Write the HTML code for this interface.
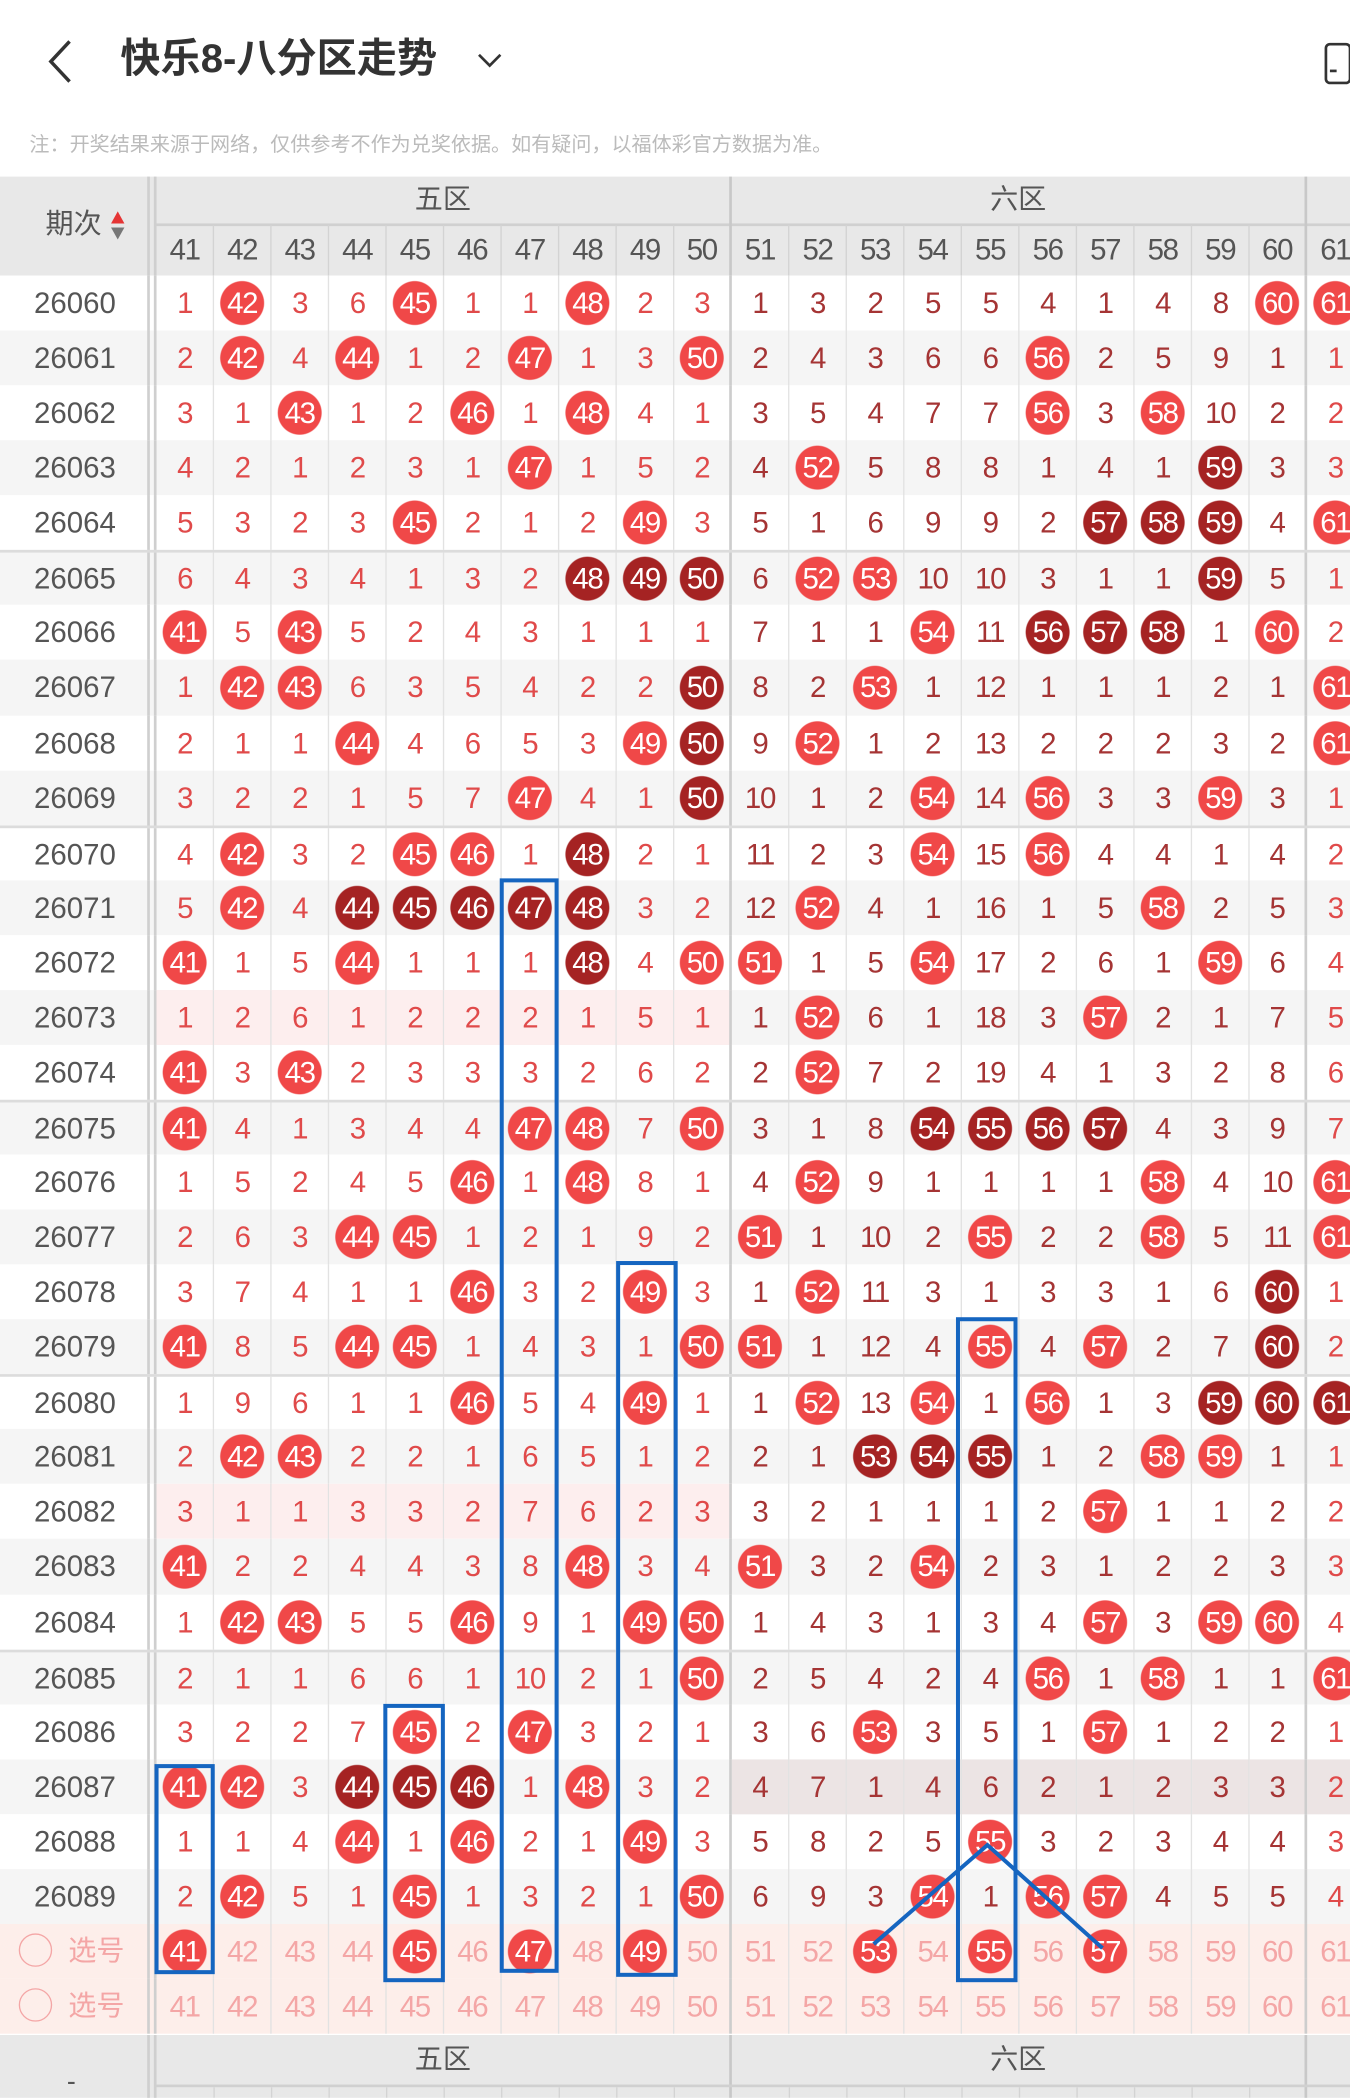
<!DOCTYPE html>
<html><head><meta charset="utf-8">
<style>
*{margin:0;padding:0}
html,body{width:1350px;height:2098px;overflow:hidden;background:#fff}
#w{position:absolute;left:0;top:0;width:1009px;height:1568px;transform:scale(1.33796);transform-origin:0 0;font-family:"Liberation Sans","Noto Sans CJK SC",sans-serif;overflow:hidden}
.a{position:absolute}
#rows{position:absolute;left:0;top:206px;width:1040px}
.r{display:flex;height:41.07px;line-height:41px;box-sizing:border-box;background:#fff}
.r:nth-child(even){background:#f5f5f5}
.r.t{border-top:2px solid #dcdcdc;line-height:39px}
.r i{flex:none;width:110px;font-style:normal;text-align:center;color:#555;font-size:22px;padding-left:2px;box-sizing:border-box}
.r u{flex:none;width:7px;border-left:2px solid #cfcfcf;border-right:2px solid #cfcfcf;box-sizing:border-box;text-decoration:none}
.r span{flex:none;width:43px;box-sizing:border-box;border-right:1px solid #e2e2e2;text-align:center;font-size:22px;color:#e04a4a;letter-spacing:-1px}
.r span:nth-child(n+13):nth-child(-n+22){color:#a53434}
.r span:nth-child(12),.r span:nth-child(22){border-right:2px solid #cdcdcd}
.r span.b{background-image:radial-gradient(circle,#f04848 16px,rgba(240,72,72,0) 16.8px);color:#fff!important}
.r span.d{background-image:radial-gradient(circle,#a52323 16px,rgba(165,35,35,0) 16.8px);color:#fff!important}
.h5 span:nth-child(n+3):nth-child(-n+12){background-color:#fdeeee}
.h6 span:nth-child(n+13){background-color:#ece4e4}
.r.s{background:#fdeeea}
.r.s span{color:#f4a6a6!important}
.r.s span.b{color:#fff!important}
.r.s i{color:#f4a6a6;text-align:left;padding-left:14px;font-size:21px}
.r.s i b{display:inline-block;width:25px;height:25px;border:1.5px solid #f4a6a6;border-radius:50%;vertical-align:middle;margin-right:12px;margin-top:-4px;box-sizing:border-box}
.hd{background:#e8e8e8}
.hn{display:flex;position:absolute;left:117px;top:168px;height:38px;line-height:38px}
.hn span{flex:none;width:43px;box-sizing:border-box;border-right:1px solid #d3d3d3;text-align:center;font-size:22px;color:#555;letter-spacing:-1px}
.hn span:nth-child(10),.hn span:nth-child(20){border-right:2px solid #c8c8c8}
.zl{font-size:21px;color:#555;text-align:center}
</style></head><body><div id="w">
<svg class="a" style="left:30px;top:28px" width="30" height="36"><polyline points="22,3 8,18 22,33" fill="none" stroke="#333" stroke-width="2.6"/></svg>
<div class="a" style="left:90px;top:26px;font-size:30px;font-weight:bold;color:#333;line-height:38px">快乐8-八分区走势</div>
<svg class="a" style="left:355px;top:37px" width="22" height="16"><polyline points="3,4 11,12 19,4" fill="none" stroke="#333" stroke-width="2"/></svg>
<div class="a" style="left:990px;top:32px;width:16px;height:27px;border:2px solid #333;border-radius:4px"></div>
<div class="a" style="left:994px;top:52px;width:5px;height:2px;background:#333"></div>
<div class="a" style="left:22px;top:99px;font-size:15px;color:#bbb;line-height:19px">注：开奖结果来源于网络，仅供参考不作为兑奖依据。如有疑问，以福体彩官方数据为准。</div>
<div class="a hd" style="left:0;top:132px;width:1009px;height:74px"></div>
<div class="a" style="left:110px;top:132px;width:3px;height:74px;border-left:2px solid #cfcfcf;border-right:2px solid #cfcfcf"></div>
<div class="a" style="left:117px;top:167px;width:900px;height:2px;background:#d0d0d0"></div>
<div class="a" style="left:545px;top:132px;width:2px;height:36px;background:#c8c8c8"></div>
<div class="a" style="left:975px;top:132px;width:2px;height:36px;background:#c8c8c8"></div>
<div class="a zl" style="left:117px;top:132px;width:428px;line-height:36px">五区</div>
<div class="a zl" style="left:547px;top:132px;width:428px;line-height:36px">六区</div>
<div class="a" style="left:34px;top:154px;font-size:21px;color:#555;line-height:28px">期次</div>
<svg class="a" style="left:81px;top:157px" width="14" height="24"><polygon points="7,1 12,10 2,10" fill="#e53535"/><polygon points="2,13 12,13 7,22" fill="#777"/></svg>
<div class="hn"><span>41</span><span>42</span><span>43</span><span>44</span><span>45</span><span>46</span><span>47</span><span>48</span><span>49</span><span>50</span><span>51</span><span>52</span><span>53</span><span>54</span><span>55</span><span>56</span><span>57</span><span>58</span><span>59</span><span>60</span><span>61</span></div>
<div id="rows">
<div class="r"><i>26060</i><u></u><span>1</span><span class=b>42</span><span>3</span><span>6</span><span class=b>45</span><span>1</span><span>1</span><span class=b>48</span><span>2</span><span>3</span><span>1</span><span>3</span><span>2</span><span>5</span><span>5</span><span>4</span><span>1</span><span>4</span><span>8</span><span class=b>60</span><span class=b>61</span></div>
<div class="r"><i>26061</i><u></u><span>2</span><span class=b>42</span><span>4</span><span class=b>44</span><span>1</span><span>2</span><span class=b>47</span><span>1</span><span>3</span><span class=b>50</span><span>2</span><span>4</span><span>3</span><span>6</span><span>6</span><span class=b>56</span><span>2</span><span>5</span><span>9</span><span>1</span><span>1</span></div>
<div class="r"><i>26062</i><u></u><span>3</span><span>1</span><span class=b>43</span><span>1</span><span>2</span><span class=b>46</span><span>1</span><span class=b>48</span><span>4</span><span>1</span><span>3</span><span>5</span><span>4</span><span>7</span><span>7</span><span class=b>56</span><span>3</span><span class=b>58</span><span>10</span><span>2</span><span>2</span></div>
<div class="r"><i>26063</i><u></u><span>4</span><span>2</span><span>1</span><span>2</span><span>3</span><span>1</span><span class=b>47</span><span>1</span><span>5</span><span>2</span><span>4</span><span class=b>52</span><span>5</span><span>8</span><span>8</span><span>1</span><span>4</span><span>1</span><span class=d>59</span><span>3</span><span>3</span></div>
<div class="r"><i>26064</i><u></u><span>5</span><span>3</span><span>2</span><span>3</span><span class=b>45</span><span>2</span><span>1</span><span>2</span><span class=b>49</span><span>3</span><span>5</span><span>1</span><span>6</span><span>9</span><span>9</span><span>2</span><span class=d>57</span><span class=d>58</span><span class=d>59</span><span>4</span><span class=b>61</span></div>
<div class="r t"><i>26065</i><u></u><span>6</span><span>4</span><span>3</span><span>4</span><span>1</span><span>3</span><span>2</span><span class=d>48</span><span class=d>49</span><span class=d>50</span><span>6</span><span class=b>52</span><span class=b>53</span><span>10</span><span>10</span><span>3</span><span>1</span><span>1</span><span class=d>59</span><span>5</span><span>1</span></div>
<div class="r"><i>26066</i><u></u><span class=b>41</span><span>5</span><span class=b>43</span><span>5</span><span>2</span><span>4</span><span>3</span><span>1</span><span>1</span><span>1</span><span>7</span><span>1</span><span>1</span><span class=b>54</span><span>11</span><span class=d>56</span><span class=d>57</span><span class=d>58</span><span>1</span><span class=b>60</span><span>2</span></div>
<div class="r"><i>26067</i><u></u><span>1</span><span class=b>42</span><span class=b>43</span><span>6</span><span>3</span><span>5</span><span>4</span><span>2</span><span>2</span><span class=d>50</span><span>8</span><span>2</span><span class=b>53</span><span>1</span><span>12</span><span>1</span><span>1</span><span>1</span><span>2</span><span>1</span><span class=b>61</span></div>
<div class="r"><i>26068</i><u></u><span>2</span><span>1</span><span>1</span><span class=b>44</span><span>4</span><span>6</span><span>5</span><span>3</span><span class=b>49</span><span class=d>50</span><span>9</span><span class=b>52</span><span>1</span><span>2</span><span>13</span><span>2</span><span>2</span><span>2</span><span>3</span><span>2</span><span class=b>61</span></div>
<div class="r"><i>26069</i><u></u><span>3</span><span>2</span><span>2</span><span>1</span><span>5</span><span>7</span><span class=b>47</span><span>4</span><span>1</span><span class=d>50</span><span>10</span><span>1</span><span>2</span><span class=b>54</span><span>14</span><span class=b>56</span><span>3</span><span>3</span><span class=b>59</span><span>3</span><span>1</span></div>
<div class="r t"><i>26070</i><u></u><span>4</span><span class=b>42</span><span>3</span><span>2</span><span class=b>45</span><span class=b>46</span><span>1</span><span class=d>48</span><span>2</span><span>1</span><span>11</span><span>2</span><span>3</span><span class=b>54</span><span>15</span><span class=b>56</span><span>4</span><span>4</span><span>1</span><span>4</span><span>2</span></div>
<div class="r"><i>26071</i><u></u><span>5</span><span class=b>42</span><span>4</span><span class=d>44</span><span class=d>45</span><span class=d>46</span><span class=d>47</span><span class=d>48</span><span>3</span><span>2</span><span>12</span><span class=b>52</span><span>4</span><span>1</span><span>16</span><span>1</span><span>5</span><span class=b>58</span><span>2</span><span>5</span><span>3</span></div>
<div class="r"><i>26072</i><u></u><span class=b>41</span><span>1</span><span>5</span><span class=b>44</span><span>1</span><span>1</span><span>1</span><span class=d>48</span><span>4</span><span class=b>50</span><span class=b>51</span><span>1</span><span>5</span><span class=b>54</span><span>17</span><span>2</span><span>6</span><span>1</span><span class=b>59</span><span>6</span><span>4</span></div>
<div class="r h5"><i>26073</i><u></u><span>1</span><span>2</span><span>6</span><span>1</span><span>2</span><span>2</span><span>2</span><span>1</span><span>5</span><span>1</span><span>1</span><span class=b>52</span><span>6</span><span>1</span><span>18</span><span>3</span><span class=b>57</span><span>2</span><span>1</span><span>7</span><span>5</span></div>
<div class="r"><i>26074</i><u></u><span class=b>41</span><span>3</span><span class=b>43</span><span>2</span><span>3</span><span>3</span><span>3</span><span>2</span><span>6</span><span>2</span><span>2</span><span class=b>52</span><span>7</span><span>2</span><span>19</span><span>4</span><span>1</span><span>3</span><span>2</span><span>8</span><span>6</span></div>
<div class="r t"><i>26075</i><u></u><span class=b>41</span><span>4</span><span>1</span><span>3</span><span>4</span><span>4</span><span class=b>47</span><span class=b>48</span><span>7</span><span class=b>50</span><span>3</span><span>1</span><span>8</span><span class=d>54</span><span class=d>55</span><span class=d>56</span><span class=d>57</span><span>4</span><span>3</span><span>9</span><span>7</span></div>
<div class="r"><i>26076</i><u></u><span>1</span><span>5</span><span>2</span><span>4</span><span>5</span><span class=b>46</span><span>1</span><span class=b>48</span><span>8</span><span>1</span><span>4</span><span class=b>52</span><span>9</span><span>1</span><span>1</span><span>1</span><span>1</span><span class=b>58</span><span>4</span><span>10</span><span class=b>61</span></div>
<div class="r"><i>26077</i><u></u><span>2</span><span>6</span><span>3</span><span class=b>44</span><span class=b>45</span><span>1</span><span>2</span><span>1</span><span>9</span><span>2</span><span class=b>51</span><span>1</span><span>10</span><span>2</span><span class=b>55</span><span>2</span><span>2</span><span class=b>58</span><span>5</span><span>11</span><span class=b>61</span></div>
<div class="r"><i>26078</i><u></u><span>3</span><span>7</span><span>4</span><span>1</span><span>1</span><span class=b>46</span><span>3</span><span>2</span><span class=b>49</span><span>3</span><span>1</span><span class=b>52</span><span>11</span><span>3</span><span>1</span><span>3</span><span>3</span><span>1</span><span>6</span><span class=d>60</span><span>1</span></div>
<div class="r"><i>26079</i><u></u><span class=b>41</span><span>8</span><span>5</span><span class=b>44</span><span class=b>45</span><span>1</span><span>4</span><span>3</span><span>1</span><span class=b>50</span><span class=b>51</span><span>1</span><span>12</span><span>4</span><span class=b>55</span><span>4</span><span class=b>57</span><span>2</span><span>7</span><span class=d>60</span><span>2</span></div>
<div class="r t"><i>26080</i><u></u><span>1</span><span>9</span><span>6</span><span>1</span><span>1</span><span class=b>46</span><span>5</span><span>4</span><span class=b>49</span><span>1</span><span>1</span><span class=b>52</span><span>13</span><span class=b>54</span><span>1</span><span class=b>56</span><span>1</span><span>3</span><span class=d>59</span><span class=d>60</span><span class=d>61</span></div>
<div class="r"><i>26081</i><u></u><span>2</span><span class=b>42</span><span class=b>43</span><span>2</span><span>2</span><span>1</span><span>6</span><span>5</span><span>1</span><span>2</span><span>2</span><span>1</span><span class=d>53</span><span class=d>54</span><span class=d>55</span><span>1</span><span>2</span><span class=b>58</span><span class=b>59</span><span>1</span><span>1</span></div>
<div class="r h5"><i>26082</i><u></u><span>3</span><span>1</span><span>1</span><span>3</span><span>3</span><span>2</span><span>7</span><span>6</span><span>2</span><span>3</span><span>3</span><span>2</span><span>1</span><span>1</span><span>1</span><span>2</span><span class=b>57</span><span>1</span><span>1</span><span>2</span><span>2</span></div>
<div class="r"><i>26083</i><u></u><span class=b>41</span><span>2</span><span>2</span><span>4</span><span>4</span><span>3</span><span>8</span><span class=b>48</span><span>3</span><span>4</span><span class=b>51</span><span>3</span><span>2</span><span class=b>54</span><span>2</span><span>3</span><span>1</span><span>2</span><span>2</span><span>3</span><span>3</span></div>
<div class="r"><i>26084</i><u></u><span>1</span><span class=b>42</span><span class=b>43</span><span>5</span><span>5</span><span class=b>46</span><span>9</span><span>1</span><span class=b>49</span><span class=b>50</span><span>1</span><span>4</span><span>3</span><span>1</span><span>3</span><span>4</span><span class=b>57</span><span>3</span><span class=b>59</span><span class=b>60</span><span>4</span></div>
<div class="r t"><i>26085</i><u></u><span>2</span><span>1</span><span>1</span><span>6</span><span>6</span><span>1</span><span>10</span><span>2</span><span>1</span><span class=b>50</span><span>2</span><span>5</span><span>4</span><span>2</span><span>4</span><span class=b>56</span><span>1</span><span class=b>58</span><span>1</span><span>1</span><span class=b>61</span></div>
<div class="r"><i>26086</i><u></u><span>3</span><span>2</span><span>2</span><span>7</span><span class=b>45</span><span>2</span><span class=b>47</span><span>3</span><span>2</span><span>1</span><span>3</span><span>6</span><span class=b>53</span><span>3</span><span>5</span><span>1</span><span class=b>57</span><span>1</span><span>2</span><span>2</span><span>1</span></div>
<div class="r h6"><i>26087</i><u></u><span class=b>41</span><span class=b>42</span><span>3</span><span class=d>44</span><span class=d>45</span><span class=d>46</span><span>1</span><span class=b>48</span><span>3</span><span>2</span><span>4</span><span>7</span><span>1</span><span>4</span><span>6</span><span>2</span><span>1</span><span>2</span><span>3</span><span>3</span><span>2</span></div>
<div class="r"><i>26088</i><u></u><span>1</span><span>1</span><span>4</span><span class=b>44</span><span>1</span><span class=b>46</span><span>2</span><span>1</span><span class=b>49</span><span>3</span><span>5</span><span>8</span><span>2</span><span>5</span><span class=b>55</span><span>3</span><span>2</span><span>3</span><span>4</span><span>4</span><span>3</span></div>
<div class="r"><i>26089</i><u></u><span>2</span><span class=b>42</span><span>5</span><span>1</span><span class=b>45</span><span>1</span><span>3</span><span>2</span><span>1</span><span class=b>50</span><span>6</span><span>9</span><span>3</span><span class=b>54</span><span>1</span><span class=b>56</span><span class=b>57</span><span>4</span><span>5</span><span>5</span><span>4</span></div>
<div class="r s"><i><b></b>选号</i><u></u><span class=b>41</span><span>42</span><span>43</span><span>44</span><span class=b>45</span><span>46</span><span class=b>47</span><span>48</span><span class=b>49</span><span>50</span><span>51</span><span>52</span><span class=b>53</span><span>54</span><span class=b>55</span><span>56</span><span class=b>57</span><span>58</span><span>59</span><span>60</span><span>61</span></div>
<div class="r s"><i><b></b>选号</i><u></u><span>41</span><span>42</span><span>43</span><span>44</span><span>45</span><span>46</span><span>47</span><span>48</span><span>49</span><span>50</span><span>51</span><span>52</span><span>53</span><span>54</span><span>55</span><span>56</span><span>57</span><span>58</span><span>59</span><span>60</span><span>61</span></div>
</div>
<div class="a hd" style="left:0;top:1521px;width:1009px;height:47px"></div>
<div class="a" style="left:110px;top:1521px;width:3px;height:47px;border-left:2px solid #cfcfcf;border-right:2px solid #cfcfcf"></div>
<div class="a" style="left:545px;top:1521px;width:2px;height:47px;background:#c8c8c8"></div>
<div class="a" style="left:975px;top:1521px;width:2px;height:47px;background:#c8c8c8"></div>
<div class="a" style="left:117px;top:1558px;width:900px;height:2px;background:#d0d0d0"></div>
<div class="a zl" style="left:117px;top:1521px;width:428px;line-height:37px">五区</div>
<div class="a zl" style="left:547px;top:1521px;width:428px;line-height:37px">六区</div>
<div class="a" style="left:50px;top:1545px;font-size:20px;color:#555">-</div>
<svg class="a" style="left:117px;top:1560px" width="900" height="8"><g stroke="#d3d3d3" stroke-width="1"><path d="M43 0V8M86 0V8M129 0V8M172 0V8M215 0V8M258 0V8M301 0V8M344 0V8M387 0V8M473 0V8M516 0V8M559 0V8M602 0V8M645 0V8M688 0V8M731 0V8M774 0V8M817 0V8"/></g></svg>
<svg class="a" style="left:0;top:0" width="1009" height="1568"><g fill="none" stroke="#1565c0" stroke-width="3">
<rect x="117" y="1320" width="42" height="154"/>
<rect x="288" y="1275" width="43" height="205"/>
<rect x="375" y="658" width="41" height="815"/>
<rect x="462" y="944" width="43" height="532"/>
<rect x="716" y="986" width="43" height="494"/>
<polyline points="653,1453 738,1379 824,1456"/>
</g></svg>
</div></body></html>
